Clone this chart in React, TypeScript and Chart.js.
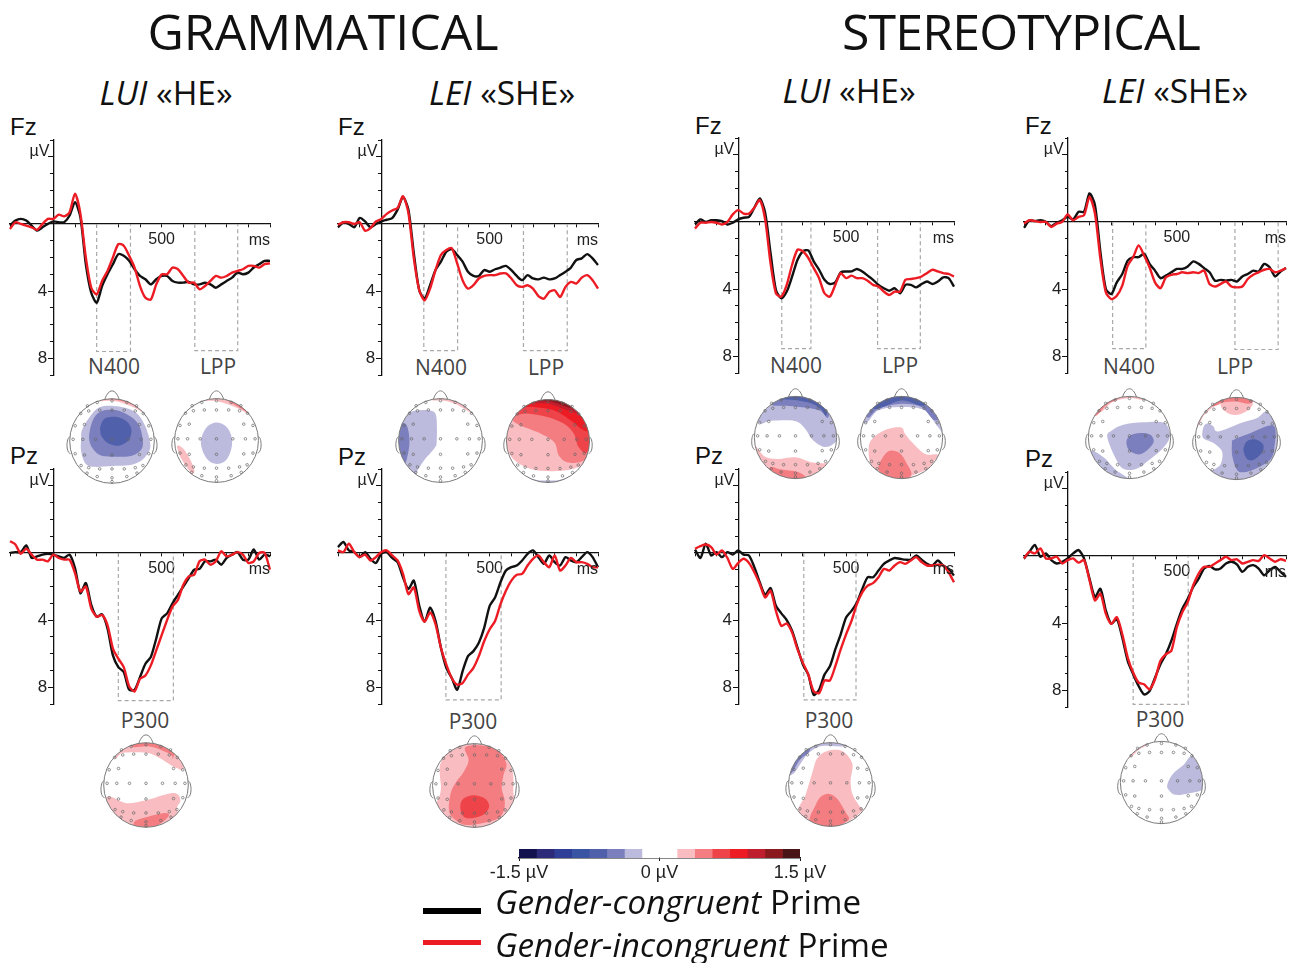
import React, { useEffect, useRef } from "react";
import { Chart, registerables } from "chart.js";

Chart.register(...registerables);

const timesMs = [-200,-175,-150,-125,-100,-75,-50,-25,0,25,50,75,100,125,150,175,200,225,250,275,300,325,350,375,400,425,450,475,500,525,550,575,600,625,650,675,700,725,750,775,800,825,850,875,900,925,950,975,1000];

const fzGramHeBlack = [.1,-.2,-.3,-.2,.1,.4,.2,0,-.15,-.1,-.1,-.5,-1.3,-.4,2.4,4.1,4.7,3.7,3,2.4,1.8,1.9,2.2,2.7,3.1,3.3,3.6,3.3,3.1,3.1,3.4,3.5,3.5,3.45,3.6,3.6,3.5,3.6,3.8,3.6,3.4,3.2,2.9,3,2.9,2.6,2.4,2.2,2.2];
const fzGramHeRed = [.3,-.1,0,.1,.2,.35,0,-.3,-.3,-.55,-.45,-.7,-1.8,-.6,2,3.8,4.2,3.4,2.8,2,1.2,1.3,1.9,2.6,3.7,4.4,4.5,3.6,3,3,2.6,2.7,3.1,3.5,3.5,3.9,3.7,3.4,3.1,3.2,3.1,2.9,2.8,2.7,2.5,2.5,2.6,2.4,2.35];
const fzGramSheBlack = [.2,-.1,0,.2,-.35,-.15,.2,0,-.15,-.25,-.35,-.85,-1.6,-.85,1.75,3.95,4.45,3.65,2.75,2.25,1.65,1.5,1.85,2.25,2.85,3.1,3.1,2.75,2.85,2.7,2.6,2.5,2.75,3.1,3.35,3.05,3.25,3.3,3.2,3.3,3.25,3.05,2.85,2.6,2.15,2.05,1.8,2.05,2.45];
const fzGramSheRed = [.05,-.1,-.1,0,-.1,.4,.25,-.15,-.3,-.6,-.8,-.95,-1.65,-.65,2.05,3.95,4.55,3.85,2.75,1.85,1.55,1.45,2.35,3.35,3.85,3.65,3.25,3.1,3.05,3.05,2.95,2.95,3.25,3.65,3.75,3.65,3.85,4.3,4.45,4.05,3.95,4.35,3.75,3.45,3.55,3.2,3.05,3.35,3.85];
const fzStereoHeBlack = [.15,-.15,0,-.1,-.1,-.05,.15,.05,-.15,-.25,-.3,-.85,-1.4,-.55,1.85,4.05,4.55,4.15,3.25,2.25,1.75,1.7,2.35,2.85,3.45,3.7,3.6,3,2.95,2.95,2.8,2.95,3.2,3.45,3.75,3.95,4.1,3.95,4.25,3.75,3.75,3.9,3.7,3.55,3.7,3.55,3.3,3.35,3.85];
const fzStereoHeRed = [.4,.05,.05,0,.05,.15,0,-.45,-.7,-.5,-.5,-.85,-1.3,-.15,2.45,4.25,4.45,3.75,2.55,1.65,1.75,2.15,2.75,3.35,4.25,4.45,3.75,3.05,3.35,3.2,3.35,3.35,3.5,3.75,3.85,4.15,4.35,4.15,4.15,3.45,3.4,3.35,3.25,3.05,2.85,2.95,3.05,3.1,3.25];
const fzStereoSheBlack = [.35,-.1,-.05,-.1,0,.25,.05,-.1,-.3,-.15,-.6,-.6,-1.7,-1,1.8,4,4.3,3.6,3.1,2.3,2.1,2.1,1.9,2.5,2.9,3.35,3.2,3,2.8,2.8,2.65,2.35,2.5,2.75,3,3.5,3.45,3.5,3.45,3.55,3.25,3.1,2.9,2.95,2.5,2.7,3.25,2.95,2.75];
const fzStereoSheRed = [.1,-.1,-.05,0,0,.3,.1,0,-.45,-.1,-.3,-.4,-1.5,-.5,2.2,4.2,4.6,4.4,3.8,2.6,2.1,1.4,2,2.7,3.6,3.95,3.3,3.15,3.1,3,3.05,3,3.05,2.9,3.7,3.85,3.7,3.55,3.85,3.9,3.85,3.4,3.15,3,2.85,2.8,3,2.9,2.75];
const pzGramHeBlack = [0,-.05,-.05,-.45,.3,.2,.1,.05,.1,.2,.3,.1,.9,2.4,1.8,3.1,3.8,3.65,4.5,6.1,6.8,7.1,8.15,8.15,7.4,6.6,6.2,5.1,3.9,3.6,3,2.5,2,1.5,1,.95,.5,.5,.4,.7,.3,.1,-.05,.4,.4,-.2,.4,.1,.2];
const pzGramHeRed = [-.7,-.5,.05,-.25,.1,.4,.4,.5,.1,.3,.4,.4,1.2,2.3,2,3.3,3.8,3.7,4.3,5.7,6.3,6.8,7.95,8.25,7.5,7.3,6.7,5.8,4.9,4,3.2,2.8,1.9,1.4,1.3,.5,.4,.7,.5,-.1,.2,.1,-.05,.1,.6,.5,0,0,1];
const pzGramSheBlack = [-.35,-.65,-.15,-.05,.25,-.05,.35,.6,.05,-.05,.3,.55,1.45,2.15,1.65,3.15,4.1,3.25,4.05,5.65,6.85,7.45,8.15,7.05,6.15,5.85,5.35,4.45,3.15,2.65,1.75,1.05,.85,.75,.45,.05,-.15,.25,.65,.15,.55,.75,.25,.45,.55,.25,-.05,.25,.85];
const pzGramSheRed = [-.15,-.05,-.55,-.05,.25,.1,.45,.25,-.05,-.15,.15,.45,1.25,2.45,2.05,3.45,4.1,3.55,4.25,5.65,6.65,7.45,7.85,7.75,7.25,6.85,6.15,5.25,4.55,4.05,3.05,2.25,1.65,1.3,1.25,.75,.35,.15,.55,.85,.15,1.05,.75,.3,.55,.55,.65,.85,.85];
const pzStereoHeBlack = [-.2,.3,-.55,.15,-.05,.25,-.05,.1,-.15,.1,.15,.85,1.75,2.5,2.1,3.15,3.6,4,4.65,5.65,6.65,7.25,8.45,8.15,7.25,6.75,5.75,4.85,3.85,3.45,2.95,2.15,1.45,1.45,1.05,.65,.45,.3,.35,.4,.4,.15,.4,.65,.75,.45,.75,.95,1.35];
const pzStereoHeRed = [-.25,-.4,-.5,-.35,.1,-.15,.3,.95,.6,.35,.6,1.15,1.85,2.65,2.25,3.45,4.35,4.2,4.75,5.75,6.55,7.25,8.25,8.35,7.6,7.6,6.75,5.75,4.85,4.05,3.05,2.35,1.95,1.8,1.45,.95,1.05,.75,.55,.65,.45,.25,.55,.75,.75,.7,.75,1.15,1.75];
const pzStereoSheBlack = [.15,-.25,-.65,.05,-.15,.25,.45,.35,.15,-.15,-.35,.15,1.35,2.45,1.95,3.25,4.05,3.75,4.85,6.25,7.05,7.75,8.25,8.05,7.25,6.45,5.85,5.05,4.05,3.15,2.55,1.85,1.35,.75,.6,.8,.75,.45,.35,.5,.95,.65,.55,.75,1.15,.85,.65,.95,1.25];
const pzStereoSheRed = [.15,-.25,-.15,-.45,.15,.15,.05,.45,.25,.15,.4,.25,1.45,2.65,2.25,3.45,4.05,3.65,4.65,6.05,6.95,7.55,7.65,7.95,7.35,6.25,5.85,5.65,4.25,3.35,2.75,1.75,1.05,.65,.65,.45,.25,.05,.25,.2,.45,.35,.25,.3,-.05,.15,.35,.2,.3];

const yMajorTicks = [-4, 4, 8];
const yLabelTicks = [4, 8];
const xLabelTicks = [500];

type Panel = { ax: number; right: number; zero: number; black: number[]; red: number[]; windows: number[][] };
const erpPanels: Panel[] = [
  { ax: 53.5, right: 270, zero: 224, black: fzGramHeBlack, red: fzGramHeRed, windows: [[200, 356, 7.6], [653, 851, 7.55]] },
  { ax: 381, right: 598, zero: 224, black: fzGramSheBlack, red: fzGramSheRed, windows: [[196, 352, 7.55], [656, 858, 7.55]] },
  { ax: 738, right: 954, zero: 222, black: fzStereoHeBlack, red: fzStereoHeRed, windows: [[202, 337, 7.55], [646, 844, 7.55]] },
  { ax: 1068, right: 1286, zero: 222, black: fzStereoSheBlack, red: fzStereoSheRed, windows: [[206, 358, 7.55], [766, 964, 7.6]] },
  { ax: 53.5, right: 270, zero: 553, black: pzGramHeBlack, red: pzGramHeRed, windows: [[300, 554, 8.8]] },
  { ax: 381, right: 598, zero: 553, black: pzGramSheBlack, red: pzGramSheRed, windows: [[298, 553, 8.76]] },
  { ax: 738, right: 954, zero: 553, black: pzStereoHeBlack, red: pzStereoHeRed, windows: [[304, 546, 8.76]] },
  { ax: 1068, right: 1286, zero: 556, black: pzStereoSheBlack, red: pzStereoSheRed, windows: [[300, 552, 8.84]] },
];

const BLUES = ["#bcbbdd", "#7b7fbd", "#5060aa", "#3a54a4", "#2f3f98", "#2b2b7a", "#12124f"];
const REDS = ["#f9bcc0", "#f47d82", "#ee4348", "#ed1c24", "#be1e2d", "#8b1a1e", "#4a1517"];
const barColors = [...BLUES].reverse().concat(["#ffffff", "#ffffff"], REDS);
const barEdges = [-1.5,-1.3125,-1.125,-.9375,-.75,-.5625,-.375,-.1875,0,.1875,.375,.5625,.75,.9375,1.125,1.3125,1.5];
const barTicks = [-1.5, 0, 1.5];

const electrodeX = [0,-.35,.35,-.58,.58,-.74,.74,-.55,-.29,0,.29,.55,-.87,-.65,.65,.87,-.92,-.69,-.39,0,.39,.69,.92,-.87,-.65,0,.65,.87,-.73,-.55,-.29,0,.29,.55,.73,-.59,-.35,0,.35,.59,0];
const electrodeY = [.95,.91,.91,.83,.83,.65,.65,.71,.73,.73,.73,.71,.36,.39,.39,.36,.04,.04,.04,.04,.04,.04,.04,-.3,-.33,-.33,-.32,-.3,-.58,-.63,-.66,-.66,-.66,-.63,-.58,-.76,-.84,-.87,-.84,-.76,-.96];

type Contour = [string, number[][]];
const b = (i: number) => BLUES[i];
const r = (i: number) => REDS[i];

const mapGramHeN400: Contour[] = [
  [r(0), [[-.45,.92],[0,1.1],[.5,1],[.85,.6],[.6,.75],[.3,.88],[0,.95],[-.3,.94]]],
  [r(1), [[-.3,.97],[0,1.1],[.4,1],[.7,.75],[.35,.91],[0,.985]]],
  [b(0), [[-.73,.06],[-.73,-.25],[-.63,-.53],[-.43,-.61],[0,-.59],[.43,-.57],[.71,-.45],[.89,-.21],[.89,.02],[.79,.34],[.63,.61],[.39,.76],[.04,.83],[-.31,.79],[-.55,.54],[-.71,.26]]],
  [b(1), [[-.53,.22],[-.53,-.02],[-.43,-.21],[-.24,-.35],[.08,-.37],[.47,-.35],[.71,-.17],[.71,.14],[.61,.42],[.39,.61],[.08,.73],[-.24,.71],[-.43,.54]]],
  [b(2), [[-.28,.26],[-.24,.1],[-.08,-.06],[.16,-.11],[.39,.02],[.46,.26],[.35,.46],[.12,.57],[-.16,.54],[-.26,.39]]],
];
const mapGramHeLPP: Contour[] = [
  [b(0), [[-.37,.02],[-.33,-.25],[-.19,-.48],[0,-.56],[.21,-.49],[.34,-.25],[.37,.02],[.29,.26],[.13,.4],[-.07,.42],[-.25,.3]]],
  [r(0), [[-.94,-.17],[-.9,-.12],[-.78,-.21],[-.63,-.45],[-.53,-.69],[-.56,-.79],[-.67,-.69],[-.83,-.45]]],
  [r(0), [[-.39,.95],[0,1.1],[.56,.95],[.87,.58],[.48,.78],[0,.94]]],
  [r(1), [[.2,1],[.6,.85],[.85,.6],[.55,.78],[.3,.93]]],
];
const mapGramSheN400: Contour[] = [
  [r(0), [[-.26,1.05],[.3,1.05],[.75,.65],[.4,.85],[.1,.95],[-.2,.96]]],
  [b(0), [[-.78,.65],[-.5,.72],[-.22,.71],[-.1,.57],[-.09,-.02],[-.14,-.18],[-.38,-.46],[-.54,-.7],[-.62,-.83],[-.86,-.5],[-1.05,-.02],[-1.02,.37]]],
  [b(1), [[-.98,.37],[-.86,.41],[-.78,.29],[-.74,-.02],[-.78,-.34],[-.86,-.54],[-1.02,-.26],[-1.05,.06]]],
];
const mapGramSheLPP: Contour[] = [
  [b(0), [[-.63,-.81],[0,-1.1],[.62,-.81],[.3,-.93],[0,-.95],[-.3,-.93]]],
  [r(0), [[-1.05,.3],[-1,-.15],[-.8,-.47],[-.43,-.67],[.06,-.73],[.62,-.67],[.95,-.47],[1.15,-.2],[1.15,1.2],[-1.05,1.2]]],
  [r(1), [[-.87,.58],[-.71,.4],[-.27,.22],[.14,-.02],[.26,-.35],[.46,-.51],[.82,-.49],[1.05,-.2],[1.2,1.2],[-.9,1.2]]],
  [r(2), [[-.85,.66],[-.51,.66],[-.02,.58],[.38,.42],[.62,.18],[.74,-.15],[.98,-.19],[1.2,1.2],[-.85,1.2]]],
  [r(3), [[-.63,.85],[-.35,.82],[.14,.74],[.54,.5],[.86,.26],[1.02,.34],[1.1,1.2],[-.6,1.2]]],
  [r(4), [[-.39,.93],[-.02,.9],[.3,.8],[.7,.66],[.85,.58],[1,1.2],[-.35,1.2]]],
  [r(5), [[-.3,.97],[.06,.95],[.38,.85],[.55,.82],[.4,1.15],[-.2,1.15]]],
];
const mapStereoHeN400: Contour[] = [
  [b(0), [[-.91,.39],[-.59,.41],[-.02,.4],[.22,.23],[.42,-.06],[.7,-.23],[.94,-.14],[1.1,.15],[1.1,1.2],[-1.1,1.2]]],
  [b(1), [[-.6,.81],[-.2,.77],[.27,.72],[.6,.65],[.8,.5],[.8,1.2],[-.6,1.2]]],
  [b(2), [[-.4,.95],[0,.91],[.38,.83],[.62,.69],[.75,.55],[.8,1.2],[-.4,1.2]]],
  [r(0), [[-1.05,-.2],[-.75,-.46],[-.43,-.52],[0,-.48],[.38,-.6],[.78,-.62],[.95,-.54],[1,-1.2],[-1.05,-1.2]]],
  [r(1), [[-.63,-.74],[-.35,-.78],[.06,-.84],[.26,-.98],[.3,-1.2],[-.7,-1.2]]],
];
const mapStereoHeLPP: Contour[] = [
  [b(0), [[-.92,.36],[-.56,.66],[0,.74],[.56,.66],[.88,.26],[1.1,.1],[1.2,1.2],[-1.2,1.2]]],
  [b(1), [[-.84,.5],[-.56,.7],[0,.82],[.48,.74],[.8,.42],[1,.6],[.6,1.2],[-1,1.2]]],
  [b(2), [[-.68,.7],[0,.9],[.56,.78],[.8,1.2],[-.8,1.2]]],
  [r(0), [[-.8,-.34],[-.76,-.1],[-.56,.1],[-.28,.22],[0,.24],[.08,.1],[.24,-.1],[.48,-.34],[.64,-.42],[.88,-.42],[.76,-.62],[.6,-.78],[.24,-.94],[0,-1.05],[-.4,-1.02],[-.64,-.82],[-.76,-.62]]],
  [r(1), [[-.56,-.74],[-.44,-.46],[-.28,-.32],[-.04,-.38],[.12,-.62],[.24,-.9],[0,-1.1],[-.4,-1]]],
];
const mapStereoSheN400: Contour[] = [
  [r(0), [[-.75,.62],[-.4,.87],[0,.96],[.35,.93],[.4,1.2],[-.9,1.2]]],
  [r(1), [[-.85,.52],[-.55,.8],[-.3,.93],[-.25,1.1],[-.9,1]]],
  [b(0), [[-.54,.01],[-.43,.17],[-.15,.31],[.34,.37],[.83,.36],[.98,.13],[.95,-.07],[.75,-.32],[.46,-.56],[.18,-.76],[-.15,-.76],[-.35,-.48]]],
  [b(1), [[-.07,-.07],[.02,.05],[.26,.11],[.5,.07],[.59,-.1],[.46,-.28],[.26,-.41],[.06,-.36],[-.05,-.24]]],
  [b(0), [[-.92,-.32],[-.63,-.48],[-.35,-.77],[.02,-1.05],[-.23,-1.15],[-.72,-.9],[-1.1,-.45]]],
];
const mapStereoSheLPP: Contour[] = [
  [r(0), [[-.4,.9],[-.35,.73],[-.15,.59],[.09,.59],[.33,.73],[.41,.9],[.4,1.2],[-.45,1.2]]],
  [r(0), [[-.95,.3],[-.8,.55],[-.6,.74],[-.4,.88],[-.4,1.2],[-1.1,.6]]],
  [r(1), [[-.6,.8],[-.3,.88],[0,.9],[.35,.86],[.4,1.2],[-.6,1.2]]],
  [b(0), [[-.68,.37],[-.56,.29],[-.44,.17],[.09,.37],[.49,.49],[.73,.65],[1.05,.4],[1.1,-.15],[1,-.6],[.73,-.9],[.09,-1.05],[-.31,-.96],[-.6,-.82],[-.39,-.63],[-.35,-.32],[-.56,-.11],[-.8,0],[-.83,.15],[-.78,.32]]],
  [b(1), [[-.11,-.11],[-.07,-.03],[.33,.13],[.9,.31],[.92,-.23],[.81,-.52],[.49,-.72],[.17,-.82],[.01,-.76],[-.1,-.44]]],
  [b(2), [[.17,-.27],[.25,-.07],[.45,-.02],[.65,-.15],[.61,-.35],[.41,-.52],[.25,-.49]]],
];
const mapGramHeP300: Contour[] = [
  [r(0), [[-.74,.64],[-.54,.76],[0,.76],[.32,.64],[.72,.4],[.9,.44],[1,1.2],[-.8,1.2]]],
  [r(1), [[-.35,.91],[.09,.91],[.56,.74],[.64,.64],[.7,1.2],[-.35,1.2]]],
  [r(0), [[-.95,-.31],[-.46,-.43],[0,-.36],[.56,-.2],[.76,-.23],[.81,-.39],[.73,-.58],[.8,-1.2],[-1,-1.2]]],
  [r(1), [[-.27,-.86],[0,-.76],[.44,-.66],[.54,-.72],[.36,-.9],[0,-1.1],[-.25,-1]]],
];
const mapGramSheP300: Contour[] = [
  [r(0), [[-.83,.3],[-.8,.55],[-.55,.85],[0,1.1],[.55,.85],[.8,.6],[.92,.28],[.93,-.2],[1,-.6],[.8,-1],[0,-1.2],[-.8,-1],[-1,-.6],[-.85,-.3],[-.8,-.05]]],
  [r(1), [[-.22,.91],[-.14,.6],[-.26,.32],[-.46,.05],[-.57,-.19],[-.61,-.58],[-.5,-.78],[-.18,-.94],[.49,-.82],[.69,-.62],[.72,-.35],[.65,-.07],[.69,.24],[.76,.52],[.57,.83],[.21,.95]]],
  [r(2), [[-.34,-.5],[-.26,-.31],[-.02,-.23],[.25,-.31],[.35,-.5],[.21,-.7],[-.06,-.78],[-.26,-.74]]],
];
const mapStereoHeP300: Contour[] = [
  [b(0), [[-.9,.25],[-.7,.52],[-.52,.75],[-.2,.92],[.5,.92],[.6,1.2],[-1.1,1.2],[-1.1,.3]]],
  [b(1), [[-.98,.25],[-.72,.6],[-.5,.8],[-.5,1.1],[-1.1,.8]]],
  [r(0), [[-.76,-.62],[-.6,-.26],[-.44,.26],[-.32,.62],[-.08,.8],[.28,.8],[.52,.5],[.48,.1],[.52,-.22],[.68,-.5],[.76,-.62],[.4,-.9],[0,-1.05],[-.48,-.94]]],
  [r(1), [[-.5,-.82],[-.36,-.5],[-.24,-.3],[-.04,-.22],[.16,-.34],[.36,-.66],[.44,-.82],[.28,-.94],[0,-1.06],[-.4,-.98]]],
];
const mapStereoSheP300: Contour[] = [
  [r(0), [[-.75,.62],[-.55,.8],[-.35,.92],[-.35,1.1],[-.8,.9]]],
  [b(0), [[.14,-.06],[.26,.19],[.54,.43],[.75,.63],[1.05,.2],[1.05,-.14],[.67,-.26],[.34,-.3],[.18,-.18]]],
];

const topoMaps: { cx: number; cy: number; rad: number; contours: Contour[] }[] = [
  { cx: 111.7, cy: 441, rad: 42.3, contours: mapGramHeN400 },
  { cx: 216.3, cy: 441, rad: 42, contours: mapGramHeLPP },
  { cx: 441, cy: 440.7, rad: 42, contours: mapGramSheN400 },
  { cx: 547.7, cy: 440.7, rad: 41.5, contours: mapGramSheLPP },
  { cx: 796, cy: 437.5, rad: 41.2, contours: mapStereoHeN400 },
  { cx: 901.7, cy: 437.7, rad: 41.2, contours: mapStereoHeLPP },
  { cx: 1129.3, cy: 437, rad: 41, contours: mapStereoSheN400 },
  { cx: 1236.3, cy: 438.7, rad: 41, contours: mapStereoSheLPP },
  { cx: 146.3, cy: 785.3, rad: 42.3, contours: mapGramHeP300 },
  { cx: 474.3, cy: 785.3, rad: 42, contours: mapGramSheP300 },
  { cx: 830, cy: 784, rad: 41.8, contours: mapStereoHeP300 },
  { cx: 1161, cy: 782.7, rad: 41, contours: mapStereoSheP300 },
];

const SANS = "'Liberation Sans', Arial, sans-serif";
const OPEN = "'Open Sans', sans-serif";

const erpLabelPlugin = {
  id: "erpLabels",
  afterDraw(chart: any) {
    const { ctx, scales } = chart;
    ctx.save();
    ctx.fillStyle = "#222";
    ctx.font = `16px ${SANS}`;
    ctx.textBaseline = "middle";
    ctx.textAlign = "right";
    ctx.fillText("ms", scales.x.getPixelForValue(1000), scales.y.getPixelForValue(1));
    ctx.fillText("µV", scales.x.getPixelForValue(-18), scales.y.getPixelForValue(-4.3));
    ctx.restore();
  },
};

const noScalePadding = (s: any) => {
  s.paddingTop = 0;
  s.paddingBottom = 0;
  s.paddingLeft = 0;
  s.paddingRight = 0;
};

function erpConfig(p: Panel): any {
  const windowSets = p.windows.map(([a, e, d]) => ({
    data: [{ x: a, y: 0 }, { x: a, y: d }, { x: e, y: d }, { x: e, y: 0 }],
    borderColor: "#a8a8a8",
    borderWidth: 1.2,
    borderDash: [4, 3],
    showLine: true,
    pointRadius: 0,
    clip: false,
  }));
  const toPoints = (v: number[]) => v.map((y, i) => ({ x: timesMs[i], y }));
  return {
    type: "scatter",
    data: {
      datasets: [
        { data: toPoints(p.red), borderColor: "#ed1c24", borderWidth: 2.4, showLine: true, pointRadius: 0, tension: 0.25, clip: false },
        { data: toPoints(p.black), borderColor: "#111111", borderWidth: 2.4, showLine: true, pointRadius: 0, tension: 0.25, clip: false },
        ...windowSets,
      ],
    },
    options: {
      responsive: false,
      animation: false,
      events: [],
      layout: { autoPadding: false, padding: 2 },
      plugins: { legend: { display: false }, tooltip: { enabled: false } },
      scales: {
        x: {
          type: "linear",
          min: -200,
          max: 1000,
          position: { y: 0 },
          border: { color: "#111", width: 1.3 },
          grid: { drawOnChartArea: false, drawTicks: true, tickLength: 3, tickColor: "#111" },
          afterFit: noScalePadding,
          ticks: {
            stepSize: 100,
            autoSkip: false,
            maxRotation: 0,
            padding: 3,
            color: "#222",
            font: { family: SANS, size: 16 },
            callback: (v: number) => (xLabelTicks.includes(v) ? String(v) : ""),
          },
        },
        y: {
          type: "linear",
          reverse: true,
          min: -5,
          max: 9,
          position: { x: 0 },
          border: { color: "#111", width: 1.3 },
          grid: { drawOnChartArea: false, drawTicks: true, tickLength: 5, tickColor: "#111" },
          afterBuildTicks: (s: any) => { s.ticks = yMajorTicks.map((value) => ({ value })); },
          afterFit: noScalePadding,
          ticks: {
            autoSkip: false,
            color: "#222",
            font: { family: SANS, size: 17 },
            callback: (v: number) => (yLabelTicks.includes(v) ? `${v} \u200A` : ""),
          },
        },
        yMinor: {
          axis: "y",
          type: "linear",
          reverse: true,
          min: -5,
          max: 9,
          position: { x: 0 },
          border: { display: false },
          grid: { drawOnChartArea: false, drawTicks: true, tickLength: 3, tickColor: "#111" },
          afterFit: noScalePadding,
          ticks: { stepSize: 1, autoSkip: false, callback: () => "" },
        },
      },
    },
    plugins: [erpLabelPlugin],
  };
}

function tracePath(ctx: CanvasRenderingContext2D, pts: { x: number; y: number }[]) {
  const n = pts.length;
  ctx.beginPath();
  ctx.moveTo(pts[0].x, pts[0].y);
  for (let i = 0; i < n; i++) {
    const p0 = pts[(i - 1 + n) % n], p1 = pts[i], p2 = pts[(i + 1) % n], p3 = pts[(i + 2) % n];
    ctx.bezierCurveTo(
      p1.x + (p2.x - p0.x) / 6, p1.y + (p2.y - p0.y) / 6,
      p2.x - (p3.x - p1.x) / 6, p2.y - (p3.y - p1.y) / 6,
      p2.x, p2.y
    );
  }
  ctx.closePath();
}

const topoPlugin = {
  id: "topoShapes",
  beforeDatasetsDraw(chart: any) {
    const { ctx, scales } = chart;
    const X = (v: number) => scales.x.getPixelForValue(v);
    const Y = (v: number) => scales.y.getPixelForValue(v);
    const cx = X(0), cy = Y(0), rad = X(1) - X(0);
    ctx.save();
    ctx.beginPath();
    ctx.arc(cx, cy, rad, 0, Math.PI * 2);
    ctx.clip();
    chart.data.datasets.forEach((ds: any, i: number) => {
      if (!ds.contourColor) return;
      tracePath(ctx, chart.getDatasetMeta(i).data);
      ctx.fillStyle = ds.contourColor;
      ctx.fill();
    });
    ctx.restore();
    ctx.save();
    ctx.strokeStyle = "#7a7a7a";
    ctx.lineWidth = 1;
    ctx.beginPath();
    ctx.arc(cx, cy, rad, 0, Math.PI * 2);
    ctx.stroke();
    ctx.beginPath();
    ctx.moveTo(X(-.17), Y(.985));
    ctx.bezierCurveTo(X(-.08), Y(1.25), X(.08), Y(1.25), X(.17), Y(.985));
    ctx.stroke();
    [-1, 1].forEach((s) => {
      ctx.beginPath();
      ctx.moveTo(X(s * .99), Y(.09));
      ctx.bezierCurveTo(X(s * 1.07), Y(.12), X(s * 1.11), Y(-.27), X(s * .98), Y(-.3));
      ctx.stroke();
    });
    ctx.restore();
  },
};

function topoConfig(contours: Contour[]): any {
  return {
    type: "scatter",
    data: {
      datasets: [
        {
          data: electrodeX.map((x, i) => ({ x, y: electrodeY[i] })),
          pointRadius: 1.3,
          pointBorderWidth: 0.7,
          pointBorderColor: "#666",
          pointBackgroundColor: "rgba(255,255,255,0)",
        },
        ...contours.map(([color, pts]) => ({
          contourColor: color,
          data: pts.map(([x, y]) => ({ x, y })),
          pointRadius: 0,
          showLine: false,
        })),
      ],
    },
    options: {
      responsive: false,
      animation: false,
      events: [],
      layout: { autoPadding: false, padding: 0 },
      plugins: { legend: { display: false }, tooltip: { enabled: false } },
      scales: {
        x: { type: "linear", min: -1.3, max: 1.3, display: false },
        y: { type: "linear", min: -1.3, max: 1.3, display: false },
      },
    },
    plugins: [topoPlugin],
  };
}

function colorbarConfig(): any {
  return {
    type: "bar",
    data: {
      labels: ["scale"],
      datasets: barColors.map((c, i) => ({
        data: [[barEdges[i], barEdges[i + 1]]],
        backgroundColor: c,
        barPercentage: 1,
        categoryPercentage: 1,
      })),
    },
    options: {
      indexAxis: "y",
      responsive: false,
      animation: false,
      events: [],
      layout: { padding: { left: 45, right: 45, top: 0, bottom: 0 } },
      plugins: { legend: { display: false }, tooltip: { enabled: false } },
      scales: {
        y: { stacked: true, display: false },
        x: {
          type: "linear",
          min: -1.5,
          max: 1.5,
          position: "bottom",
          border: { color: "#111", width: 1.5 },
          grid: { drawOnChartArea: false, drawTicks: true, tickLength: 3, tickColor: "#111" },
          afterBuildTicks: (s: any) => { s.ticks = barTicks.map((value) => ({ value })); },
          afterFit: (s: any) => { s.height = 32; },
          ticks: {
            autoSkip: false,
            maxRotation: 0,
            padding: 1,
            color: "#222",
            font: { family: SANS, size: 18 },
            callback: (v: number) => `${v} µV`,
          },
        },
      },
    },
  };
}

function ChartCanvas({ left, top, width, height, config }: { left: number; top: number; width: number; height: number; config: () => any }) {
  const ref = useRef<HTMLCanvasElement | null>(null);
  useEffect(() => {
    const chart = new Chart(ref.current as HTMLCanvasElement, config());
    return () => chart.destroy();
  }, []);
  return <canvas ref={ref} width={Math.round(width)} height={Math.round(height)} style={{ position: "absolute", left: Math.round(left), top: Math.round(top), width: Math.round(width), height: Math.round(height), display: "block" }} />;
}

function Txt({ x, y, size, color = "#111", family = OPEN, children, anchor = "center", spacing = 0 }: any) {
  return (
    <span style={{ position: "absolute", left: x, top: y, transform: `translate(${anchor === "center" ? "-50%" : "0"},-50%)`, fontSize: size, color, fontFamily: family, whiteSpace: "pre", lineHeight: 1, letterSpacing: spacing }}>
      {children}
    </span>
  );
}

const headings: [string, number, number, number][] = [["GRAMMATICAL", 323, 31, 0], ["STEREOTYPICAL", 1021, 31, -0.85]];
const subHeads: [string, string, number, number][] = [
  ["LUI", " «HE»", 166, 93], ["LEI", " «SHE»", 502, 93], ["LUI", " «HE»", 849, 91], ["LEI", " «SHE»", 1175, 91],
];
const siteLabels: [string, number, number][] = [
  ["Fz", 10, 127], ["Fz", 338, 127], ["Fz", 695, 126], ["Fz", 1025, 126],
  ["Pz", 10, 456], ["Pz", 338, 457], ["Pz", 695, 456], ["Pz", 1025, 459],
];
const componentLabels: [string, number, number][] = [
  ["N400", 114, 366], ["LPP", 218, 366], ["N400", 441, 367], ["LPP", 546, 367],
  ["N400", 796, 365], ["LPP", 900, 365], ["N400", 1129, 366], ["LPP", 1235, 366],
  ["P300", 145, 720], ["P300", 473, 721], ["P300", 829, 720], ["P300", 1160, 719],
];

export default function App() {
  const PAD = 2;
  return (
    <div style={{ position: "absolute", left: 0, top: 0, width: 1291, height: 963, overflow: "hidden", background: "#fff" }}>
      {headings.map(([t, x, y, s]) => <Txt key={t} x={x} y={y} size={50} spacing={s}>{t}</Txt>)}
      {subHeads.map(([it, rest, x, y]) => (
        <Txt key={x} x={x} y={y} size={33.5}><i>{it}</i>{rest}</Txt>
      ))}
      {siteLabels.map(([t, x, y]) => <Txt key={`${x}${y}`} x={x} y={y} size={24} family={SANS} anchor="left">{t}</Txt>)}
      {componentLabels.map(([t, x, y]) => <Txt key={`${x}${y}`} x={x} y={y} size={21} color="#444">{t}</Txt>)}
      {erpPanels.map((p, i) => {
        const k = (p.right - p.ax) / 1000;
        const left = p.ax - 200 * k - PAD;
        const top = p.zero - 5 * 16.75 - PAD;
        return <ChartCanvas key={i} left={left} top={top} width={1200 * k + 2 * PAD} height={14 * 16.75 + 2 * PAD} config={() => erpConfig(p)} />;
      })}
      {topoMaps.map((m, i) => (
        <ChartCanvas key={i} left={m.cx - 1.3 * m.rad} top={m.cy - 1.3 * m.rad} width={2.6 * m.rad} height={2.6 * m.rad} config={() => topoConfig(m.contours)} />
      ))}
      <ChartCanvas left={518.5 - 45} top={849} width={280.5 + 90} height={41} config={colorbarConfig} />
      <div style={{ position: "absolute", left: 423, top: 908, width: 58, height: 6, background: "#000" }} />
      <div style={{ position: "absolute", left: 423, top: 940, width: 58, height: 5, background: "#ed1c24" }} />
      <Txt x={495} y={902} size={33.2} anchor="left"><i>Gender-congruent</i> Prime</Txt>
      <Txt x={495} y={945} size={33.2} anchor="left"><i>Gender-incongruent</i> Prime</Txt>
    </div>
  );
}
